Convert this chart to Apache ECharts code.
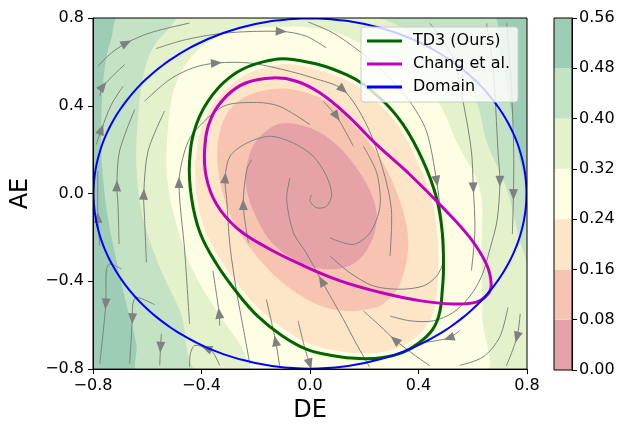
<!DOCTYPE html>
<html><head><meta charset="utf-8">
<script src="https://cdn.jsdelivr.net/npm/echarts@6/dist/echarts.min.js"></script>
<style>html,body{margin:0;padding:0;background:#fff}#c{width:620px;height:428px}</style>
</head><body><div id="c"></div>
<script>
// ---- colour levels (colorbar) ----
const levels = [0.00, 0.08, 0.16, 0.24, 0.32, 0.40, 0.48, 0.56];
const levelColors = ['#e5a3a8', '#f7c4b2', '#fde5c8', '#fefee4', '#e3f2cb', '#c4e3c4', '#9ecdb6'];

// ---- filled-contour boundaries (DE, AE), region with value below the level ----
const contour048 = [[-0.696,0.815],[0.664,0.815],[0.699,0.648],[0.736,0.421],[0.767,0.194],[0.81,-0.073],[0.81,-0.821],[-0.628,-0.821],[-0.640,-0.685],[-0.671,-0.533],[-0.708,-0.336],[-0.745,-0.109],[-0.766,0.118],[-0.769,0.345],[-0.757,0.573],[-0.732,0.709]];
const contour040 = [[-0.468,0.815],[0.195,0.815],[0.367,0.739],[0.527,0.603],[0.613,0.421],[0.653,0.232],[0.726,0.018],[0.767,-0.185],[0.81,-0.382],[0.81,-0.821],[-0.394,-0.821],[-0.480,-0.533],[-0.554,-0.336],[-0.616,-0.109],[-0.640,0.118],[-0.634,0.345],[-0.616,0.527],[-0.579,0.664],[-0.517,0.755]];
const contour032 = [[-0.527,0.073],[-0.524,0.285],[-0.499,0.482],[-0.431,0.633],[-0.321,0.724],[-0.161,0.758],[0.060,0.747],[0.220,0.664],[0.369,0.564],[0.478,0.406],[0.542,0.232],[0.627,0.018],[0.632,-0.261],[0.635,-0.564],[0.638,-0.821],[-0.186,-0.821],[-0.259,-0.685],[-0.345,-0.533],[-0.431,-0.352],[-0.493,-0.139]];
const contour024 = [[-0.063,0.588],[0.128,0.520],[0.245,0.421],[0.328,0.303],[0.398,0.141],[0.447,-0.018],[0.470,-0.200],[0.473,-0.345],[0.466,-0.470],[0.445,-0.570],[0.400,-0.645],[0.340,-0.695],[0.263,-0.722],[0.183,-0.728],[0.091,-0.714],[-0.004,-0.684],[-0.095,-0.620],[-0.180,-0.535],[-0.255,-0.430],[-0.328,-0.305],[-0.385,-0.175],[-0.417,-0.018],[-0.423,0.145],[-0.399,0.303],[-0.342,0.432],[-0.259,0.527],[-0.167,0.573]];
const contour016 = [[-0.247,0.436],[-0.149,0.474],[-0.063,0.474],[0.060,0.421],[0.159,0.315],[0.257,0.164],[0.318,0.012],[0.355,-0.139],[0.361,-0.261],[0.331,-0.412],[0.269,-0.503],[0.183,-0.533],[0.109,-0.533],[0.023,-0.503],[-0.063,-0.442],[-0.149,-0.352],[-0.222,-0.245],[-0.284,-0.124],[-0.321,-0.003],[-0.339,0.118],[-0.339,0.239],[-0.308,0.361]];
const contour008 = [[-0.112,0.318],[-0.001,0.300],[0.097,0.224],[0.171,0.118],[0.232,-0.018],[0.245,-0.139],[0.208,-0.261],[0.146,-0.329],[0.048,-0.344],[-0.050,-0.306],[-0.136,-0.230],[-0.198,-0.109],[-0.235,0.027],[-0.232,0.133],[-0.198,0.239]];

// ---- region boundaries ----
const td3Boundary = [[-0.063,0.611],[0.134,0.542],[0.257,0.436],[0.343,0.315],[0.417,0.148],[0.466,-0.018],[0.488,-0.180],[0.492,-0.345],[0.488,-0.436],[0.478,-0.542],[0.453,-0.618],[0.404,-0.679],[0.343,-0.724],[0.269,-0.747],[0.183,-0.752],[0.085,-0.739],[-0.014,-0.709],[-0.103,-0.648],[-0.192,-0.560],[-0.270,-0.450],[-0.345,-0.320],[-0.405,-0.180],[-0.437,-0.018],[-0.444,0.148],[-0.419,0.315],[-0.358,0.452],[-0.272,0.550],[-0.173,0.600]];
const changBoundary = [[-0.136,0.527],[-0.050,0.512],[0.036,0.459],[0.134,0.361],[0.245,0.224],[0.367,0.088],[0.490,-0.064],[0.589,-0.200],[0.650,-0.321],[0.668,-0.412],[0.656,-0.458],[0.613,-0.495],[0.527,-0.503],[0.404,-0.488],[0.257,-0.450],[0.109,-0.397],[-0.038,-0.321],[-0.161,-0.245],[-0.272,-0.155],[-0.345,-0.048],[-0.382,0.073],[-0.388,0.209],[-0.364,0.345],[-0.308,0.444],[-0.235,0.505]];
const domainCircle = [0.0, 0.0, 0.798]; // centre DE, centre AE, radius

// ---- streamlines (DE, AE) and the index of each arrow head ----
const streamlines = [
  [[-0.782,0.580],[-0.732,0.641],[-0.677,0.686],[-0.591,0.732],[-0.444,0.777]],
  [[-0.567,0.661],[-0.456,0.702],[-0.308,0.732],[-0.106,0.739],[-0.014,0.717],[0.060,0.664]],
  [[-0.007,0.782],[0.085,0.732],[0.183,0.648],[0.281,0.542],[0.367,0.421],[0.429,0.285],[0.467,0.056],[0.484,-0.124],[0.488,-0.261]],
  [[0.442,0.776],[0.527,0.618],[0.564,0.421],[0.595,0.194],[0.602,0.026],[0.608,-0.170],[0.595,-0.352]],
  [[0.651,0.776],[0.675,0.573],[0.693,0.194],[0.700,0.056],[0.690,-0.120],[0.664,-0.250],[0.633,-0.376],[0.590,-0.467],[0.528,-0.542],[0.455,-0.580],[0.369,-0.580],[0.295,-0.558]],
  [[0.725,0.776],[0.742,0.497],[0.751,0.194],[0.750,-0.005],[0.746,-0.185]],
  [[-0.775,0.444],[-0.763,0.489],[-0.683,0.588]],
  [[-0.788,0.224],[-0.769,0.292],[-0.732,0.406],[-0.689,0.489]],
  [[-0.610,0.421],[-0.517,0.520],[-0.431,0.573],[-0.345,0.595],[-0.222,0.595],[-0.100,0.565],[0.011,0.527],[0.122,0.473],[0.208,0.315],[0.269,0.109],[0.300,-0.073],[0.295,-0.285]],
  [[-0.704,-0.230],[-0.708,-0.048],[-0.712,0.035],[-0.702,0.194],[-0.646,0.383]],
  [[-0.603,-0.314],[-0.610,-0.109],[-0.613,-0.003],[-0.597,0.194],[-0.536,0.376]],
  [[-0.444,-0.594],[-0.462,-0.261],[-0.483,0.050],[-0.462,0.194],[-0.430,0.276],[-0.320,0.397],[-0.197,0.415],[-0.111,0.397],[0.000,0.314]],
  [[-0.775,-0.238],[-0.782,-0.109],[-0.782,0.103]],
  [[-0.222,-0.776],[-0.252,-0.573],[-0.270,-0.452],[-0.295,-0.239],[-0.307,-0.027],[-0.313,0.071],[-0.295,0.170],[-0.233,0.230],[-0.147,0.261],[-0.061,0.230],[0.012,0.170],[0.061,0.079],[0.080,-0.005],[0.061,-0.058],[0.025,-0.065],[0.000,-0.035],[0.006,-0.005]],
  [[-0.227,-0.224],[-0.246,-0.050],[-0.233,0.109],[-0.215,0.155]],
  [[0.220,-0.791],[0.171,-0.685],[0.123,-0.573],[0.043,-0.398],[-0.014,-0.270],[-0.061,-0.179],[-0.086,-0.027],[-0.074,0.071]],
  [[0.197,0.215],[0.246,0.094],[0.258,-0.058],[0.221,-0.179],[0.160,-0.232],[0.074,-0.202]],
  [[0.492,-0.315],[0.467,-0.376],[0.418,-0.421],[0.332,-0.436],[0.233,-0.421],[0.147,-0.361],[0.074,-0.285]],
  [[0.442,-0.785],[0.381,-0.732],[0.313,-0.667],[0.258,-0.603],[0.197,-0.535]],
  [[0.552,-0.624],[0.512,-0.658],[0.429,-0.677]],
  [[0.730,-0.518],[0.699,-0.655],[0.638,-0.745],[0.552,-0.783]],
  [[0.775,-0.548],[0.763,-0.655],[0.724,-0.785]],
  [[-0.696,-0.344],[-0.739,-0.321],[-0.751,-0.352],[-0.753,-0.503],[-0.775,-0.776]],
  [[-0.573,-0.506],[-0.640,-0.473],[-0.653,-0.503],[-0.655,-0.571],[-0.665,-0.776]],
  [[-0.548,-0.639],[-0.551,-0.700],[-0.554,-0.783]],
  [[-0.333,-0.783],[-0.358,-0.723],[-0.382,-0.705],[-0.425,-0.692],[-0.441,-0.730],[-0.444,-0.791]],
  [[-0.333,-0.602],[-0.335,-0.545],[-0.358,-0.352]],
  [[-0.112,-0.785],[-0.127,-0.671],[-0.161,-0.482]],
  [[-0.044,-0.580],[-0.020,-0.700],[-0.001,-0.777]],
  [[0.048,0.421],[0.098,0.352],[0.160,0.215]]
];
const streamArrowAt = [[2],[3],[6],[4],[3],[3],[1],[1],[3,7],[2],[2],[2],[1],[5],[1],[3],[],[],[2],[1],[],[1],[3],[3],[1],[2],[1],[1],[2],[1]];

const xTicks = { min: -0.8, max: 0.8, step: 0.4 };
const yTicks = { min: -0.8, max: 0.8, step: 0.4 };

const FONT = 'DejaVu Sans';
const BLACK = '#000000';
const fmt1 = v => (Math.abs(v) < 1e-9 ? 0 : v).toFixed(1).replace('-', '\u2212');
const pix = (api, arr) => arr.map(p => api.coord(p));

const chart = echarts.init(document.getElementById('c'), null, { renderer: 'canvas' });

const contourLayers = [contour048, contour040, contour032, contour024, contour016, contour008];

const boundarySeries = (name, color, width, getPts) => ({
  type: 'custom', name, xAxisIndex: 0, yAxisIndex: 0, clip: true, z: 3, silent: true,
  data: [[0, 0]], itemStyle: { color },
  renderItem: (params, api) => ({
    type: 'polygon', shape: { points: getPts(api), smooth: 0.4 },
    style: { fill: 'none', stroke: color, lineWidth: width }
  })
});

const option = {
  animation: false,
  backgroundColor: '#ffffff',
  grid: [
    { left: 93, top: 18, width: 434, height: 352, show: true, borderColor: BLACK, borderWidth: 1, backgroundColor: 'transparent', z: 10 },
    { left: 554, top: 18, width: 18, height: 352, show: true, borderColor: BLACK, borderWidth: 1, backgroundColor: 'transparent', z: 10 }
  ],
  xAxis: [
    { gridIndex: 0, type: 'value', min: xTicks.min, max: xTicks.max, interval: xTicks.step, z: 10,
      axisLine: { show: true, onZero: false, lineStyle: { color: BLACK, width: 1 } },
      axisTick: { show: true, length: 5, lineStyle: { color: BLACK } },
      axisLabel: { color: BLACK, fontSize: 16, fontFamily: FONT, margin: 9, formatter: fmt1, showMinLabel: true, showMaxLabel: true },
      splitLine: { show: false },
      name: 'DE', nameLocation: 'middle', nameGap: 28, nameTextStyle: { fontSize: 24, color: BLACK, fontFamily: FONT } },
    { gridIndex: 1, type: 'value', min: 0, max: 1, show: false }
  ],
  yAxis: [
    { gridIndex: 0, type: 'value', min: yTicks.min, max: yTicks.max, interval: yTicks.step, z: 10,
      axisLine: { show: true, onZero: false, lineStyle: { color: BLACK, width: 1 } },
      axisTick: { show: true, length: 5, lineStyle: { color: BLACK } },
      axisLabel: { color: BLACK, fontSize: 16, fontFamily: FONT, margin: 9, formatter: fmt1, showMinLabel: true, showMaxLabel: true },
      splitLine: { show: false },
      name: 'AE', nameLocation: 'middle', nameRotate: 90, nameGap: 60, nameTextStyle: { fontSize: 24, color: BLACK, fontFamily: FONT } },
    { gridIndex: 1, type: 'value', min: levels[0], max: levels[levels.length - 1], interval: 0.08, position: 'right', z: 10,
      axisLine: { show: true, onZero: false, lineStyle: { color: BLACK, width: 1 } },
      axisTick: { show: true, length: 5, lineStyle: { color: BLACK } },
      axisLabel: { color: BLACK, fontSize: 16, fontFamily: FONT, margin: 7, formatter: v => v.toFixed(2), showMinLabel: true, showMaxLabel: true },
      splitLine: { show: false } }
  ],
  legend: {
    data: [
      { name: 'TD3 (Ours)', itemStyle: { color: '#006400' } },
      { name: 'Chang et al.', itemStyle: { color: '#bf00bf' } },
      { name: 'Domain', itemStyle: { color: '#0000ff' } }
    ],
    orient: 'vertical', left: 361, top: 27, icon: 'rect', itemWidth: 35, itemHeight: 3, itemGap: 5,
    padding: [5, 8, 6, 6], backgroundColor: 'rgba(255,255,255,0.8)', borderColor: '#cccccc', borderWidth: 1, borderRadius: 3,
    textStyle: { fontSize: 16, fontFamily: FONT, color: BLACK, padding: [0, 0, 0, 6], lineHeight: 18 },
    selectedMode: false, z: 20
  },
  series: [
    { type: 'custom', name: 'contours', xAxisIndex: 0, yAxisIndex: 0, clip: true, z: 1, silent: true, data: [[0, 0]],
      renderItem: (params, api) => {
        const cs = params.coordSys;
        const children = [{ type: 'rect', shape: { x: cs.x, y: cs.y, width: cs.width, height: cs.height }, style: { fill: levelColors[6] } }];
        contourLayers.forEach((poly, k) => {
          children.push({ type: 'polygon', shape: { points: pix(api, poly), smooth: 0.35 }, style: { fill: levelColors[5 - k] } });
        });
        return { type: 'group', children };
      } },
    { type: 'custom', name: 'stream', xAxisIndex: 0, yAxisIndex: 0, clip: true, z: 2, silent: true, data: [[0, 0]],
      renderItem: (params, api) => {
        const children = [];
        streamlines.forEach((line, k) => {
          const pts = pix(api, line);
          children.push({ type: 'polyline', shape: { points: pts, smooth: 0.3 }, style: { stroke: '#808080', lineWidth: 1, fill: 'none' } });
          streamArrowAt[k].forEach(i => {
            const a = pts[Math.max(i - 1, 0)], b = pts[Math.min(i + 1, pts.length - 1)];
            let dx = b[0] - a[0], dy = b[1] - a[1];
            const L = Math.hypot(dx, dy) || 1; dx /= L; dy /= L;
            const p = pts[i], h = 5.5, w = 4.5;
            children.push({ type: 'polygon', shape: { points: [
              [p[0] + dx * h, p[1] + dy * h],
              [p[0] - dx * h - dy * w, p[1] - dy * h + dx * w],
              [p[0] - dx * h + dy * w, p[1] - dy * h - dx * w]] }, style: { fill: '#808080' } });
          });
        });
        return { type: 'group', children };
      } },
    boundarySeries('TD3 (Ours)', '#006400', 3, api => pix(api, td3Boundary)),
    boundarySeries('Chang et al.', '#bf00bf', 3, api => pix(api, changBoundary)),
    boundarySeries('Domain', '#0000ff', 2, api => {
      const [cx, cy, r] = domainCircle; const pts = [];
      for (let k = 0; k < 160; k++) { const t = 2 * Math.PI * k / 160; pts.push(api.coord([cx + r * Math.cos(t), cy + r * Math.sin(t)])); }
      return pts;
    }),
    { type: 'custom', name: 'colorbar', xAxisIndex: 1, yAxisIndex: 1, z: 1, silent: true,
      data: levelColors.map((c, i) => [i]),
      renderItem: (params, api) => {
        const i = params.dataIndex;
        const p0 = api.coord([0, levels[i]]), p1 = api.coord([1, levels[i + 1]]);
        return { type: 'rect', shape: { x: p0[0], y: p1[1], width: p1[0] - p0[0], height: p0[1] - p1[1] }, style: { fill: levelColors[i] } };
      } }
  ]
};
chart.setOption(option);
</script></body></html>
